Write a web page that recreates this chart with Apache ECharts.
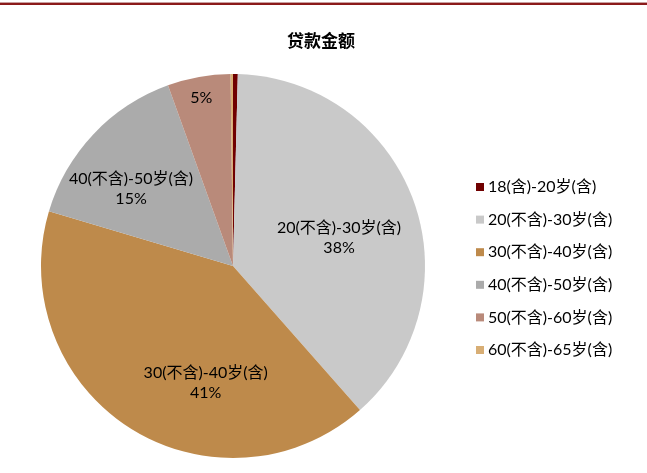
<!DOCTYPE html>
<html>
<head>
<meta charset="utf-8">
<script src="https://cdn.jsdelivr.net/npm/echarts@6/dist/echarts.min.js"></script>
<style>
html,body{margin:0;padding:0;background:#fff;}
#topline{position:absolute;left:0;top:3px;width:647px;height:2px;background:#8B1A1A;box-shadow:0 -1px 0 #c9a0a0;}
#c{width:647px;height:473px;}
</style>
</head>
<body>
<div id="topline"></div>
<div id="c"></div>
<script>
var title = '贷款金额';
var categories = ['18(含)-20岁(含)', '20(不含)-30岁(含)', '30(不含)-40岁(含)', '40(不含)-50岁(含)', '50(不含)-60岁(含)', '60(不含)-65岁(含)'];
var values = [0.4, 38.1, 41.1, 14.9, 5.3, 0.2];
var shownLabels = ['', '20(不含)-30岁(含)\n38%', '30(不含)-40岁(含)\n41%', '40(不含)-50岁(含)\n15%', '5%', ''];
var colors = ['#700000', '#C9C9C9', '#BE8A4B', '#ABABAB', '#B98A7A', '#D8AE75'];
var labelShift = [[0,0],[13,6],[26,33],[-30,-9],[-14,-71],[0,0]];

var font = "Lato, 'Noto Sans CJK SC', sans-serif";
var chart = echarts.init(document.getElementById('c'), null, {renderer: 'canvas'});
chart.setOption({
  animation: false,
  color: colors,
  title: {
    text: title, left: 316, top: 27, textAlign: 'center',
    textStyle: {fontSize: 17, fontWeight: 'bold', color: '#000', fontFamily: "'Noto Sans CJK SC', sans-serif"}
  },
  legend: {
    orient: 'vertical', left: 471, top: 174,
    itemWidth: 8, itemHeight: 8, itemGap: 16.6, icon: 'rect',
    textStyle: {fontSize: 16, lineHeight: 16, color: '#000', fontFamily: font, padding: [0,0,0,-1]},
    data: categories
  },
  series: [{
    type: 'pie',
    center: [233, 266],
    radius: [0, 192],
    startAngle: 90,
    clockwise: true,
    silent: true,
    itemStyle: {borderWidth: 0},
    label: {
      show: true, position: 'inside', color: '#000', fontSize: 16, lineHeight: 20,
      fontFamily: font,
      formatter: function (p) { return shownLabels[p.dataIndex]; }
    },
    labelLine: {show: false},
    labelLayout: function (p) {
      var s = labelShift[p.dataIndex];
      return {dx: s[0], dy: s[1]};
    },
    data: categories.map(function (c, i) { return {name: c, value: values[i]}; })
  }]
});
</script>
</body>
</html>
